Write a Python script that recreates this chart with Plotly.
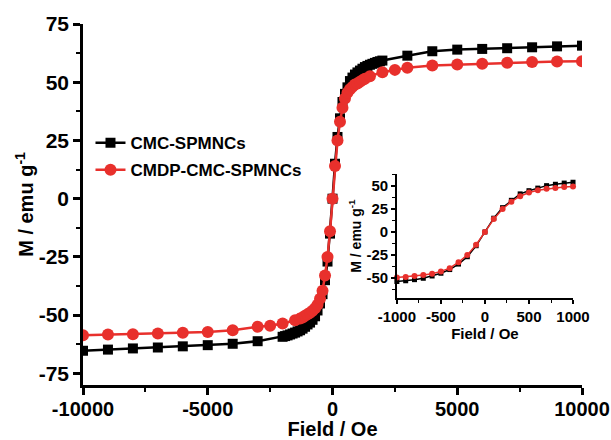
import plotly.graph_objects as go

# ---------------- data ----------------
cmc_field = [-10000, -9000, -8000, -7000, -6000, -5000, -4000, -3000,
             -2000, -1900, -1800, -1700, -1600, -1500, -1400, -1300, -1200, -1100,
             -1000, -900, -800, -700, -600, -500, -400, -300, -200, -100,
             0, 100, 200, 300, 400, 500, 600, 700, 800, 900, 1000,
             1100, 1200, 1300, 1400, 1500, 1600, 1700, 1800, 1900, 2000,
             3000, 4000, 5000, 6000, 7000, 8000, 9000, 10000]
cmc_m = [-65.3, -64.8, -64.3, -63.9, -63.4, -62.9, -62.3, -61.2,
         -59.3, -59.0, -58.7, -58.3, -57.9, -57.5, -57.0, -56.5, -55.8, -55.0,
         -54.0, -53.2, -52.0, -50.5, -48.0, -45.0, -41.0, -35.0, -27.0, -15.0,
         0.0, 15.0, 26.5, 34.5, 41.5, 45.0, 47.8, 50.5, 52.0, 53.3, 54.2,
         55.0, 55.8, 56.5, 57.0, 57.5, 57.9, 58.3, 58.7, 59.0, 59.3,
         61.4, 63.3, 64.0, 64.3, 64.6, 65.0, 65.4, 65.7]

cmdp_field = [-10000, -9000, -8000, -7000, -6000, -5000, -4000, -3000, -2500, -2000, -1500,
              -1300, -1200, -1100, -1000, -900, -800, -700, -600, -500, -400, -300, -200, -100,
              0, 100, 200, 300, 400, 500, 600, 700, 800, 900, 1000, 1100, 1200, 1300,
              1500, 2000, 2500, 3000, 4000, 5000, 6000, 7000, 8000, 9000, 10000]
cmdp_m = [-58.6, -58.3, -58.2, -57.9, -57.6, -57.2, -56.5, -55.0, -54.6, -53.6, -52.2,
          -51.5, -51.0, -50.3, -49.6, -49.0, -48.1, -47.0, -45.5, -43.0, -39.5, -33.0, -25.0, -14.0,
          0.0, 14.0, 25.0, 33.0, 39.0, 43.0, 45.5, 47.0, 48.0, 49.0, 49.5, 50.2, 50.9, 51.5,
          52.6, 54.3, 55.3, 56.2, 57.2, 57.6, 57.9, 58.4, 58.7, 58.9, 59.0]

x_tickvals = [-10000, -5000, 0, 5000, 10000]
x_ticktext = ["-10000", "-5000", "0", "5000", "10000"]
y_tickvals = [-75, -50, -25, 0, 25, 50, 75]
y_ticktext = ["-75", "-50", "-25", "0", "25", "50", "75"]
ix_tickvals = [-1000, -500, 0, 500, 1000]
ix_ticktext = ["-1000", "-500", "0", "500", "1000"]
iy_tickvals = [-50, -25, 0, 25, 50]
iy_ticktext = ["-50", "-25", "0", "25", "50"]

names = ["CMC-SPMNCs", "CMDP-CMC-SPMNCs"]

BLACK = "#000000"
RED = "#e8302c"
FONT = "Arial, 'Liberation Sans', sans-serif"

inset_lim = 1000
cmc_in = [(f, m) for f, m in zip(cmc_field, cmc_m) if abs(f) <= inset_lim]
cmdp_in = [(f, m) for f, m in zip(cmdp_field, cmdp_m) if abs(f) <= inset_lim]

fig = go.Figure()
fig.add_trace(go.Scatter(x=cmc_field, y=cmc_m, name=names[0], mode="lines+markers",
                         legendgroup="a",
                         line=dict(color=BLACK, width=2.5),
                         marker=dict(symbol="square", size=10, color=BLACK)))
fig.add_trace(go.Scatter(x=cmdp_field, y=cmdp_m, name=names[1], mode="lines+markers",
                         legendgroup="b",
                         line=dict(color=RED, width=2.5),
                         marker=dict(symbol="circle", size=12, color=RED)))
fig.add_trace(go.Scatter(x=[p[0] for p in cmc_in], y=[p[1] for p in cmc_in],
                         xaxis="x2", yaxis="y2", mode="lines+markers", showlegend=False,
                         line=dict(color=BLACK, width=1.5), cliponaxis=False,
                         marker=dict(symbol="square", size=5, color=BLACK)))
fig.add_trace(go.Scatter(x=[p[0] for p in cmdp_in], y=[p[1] for p in cmdp_in],
                         xaxis="x2", yaxis="y2", mode="lines+markers", showlegend=False,
                         line=dict(color=RED, width=1.5), cliponaxis=False,
                         marker=dict(symbol="circle", size=6, color=RED)))

axis_common = dict(showline=True, linecolor="black", mirror=False, showgrid=False,
                   zeroline=False, ticks="outside", tickcolor="black", automargin=False)

fig.update_layout(
    width=611, height=440,
    margin=dict(l=83, r=29, t=24, b=55),
    paper_bgcolor="white", plot_bgcolor="white",
    font=dict(family=FONT, color="black"),
    xaxis=dict(**axis_common, range=[-10000, 10000], linewidth=2.5, tickwidth=2.5, ticklen=7,
               tickvals=x_tickvals, ticktext=x_ticktext, ticklabelstandoff=-3,
               tickfont=dict(size=20, weight="bold"),
               minor=dict(dtick=2500, ticks="outside", ticklen=4, tickwidth=2, tickcolor="black"),
               title=dict(text="Field / Oe", font=dict(size=20, weight="bold"), standoff=0)),
    yaxis=dict(**axis_common, range=[-80, 75], linewidth=2.5, tickwidth=2.5, ticklen=7,
               tickvals=y_tickvals, ticktext=y_ticktext,
               tickfont=dict(size=21, weight="bold"),
               minor=dict(dtick=12.5, ticks="outside", ticklen=4, tickwidth=2, tickcolor="black"),
               title=dict(text="M / emu g<sup>-1</sup>", font=dict(size=20, weight="bold"), standoff=0)),
    xaxis2=dict(**axis_common, domain=[0.629, 0.982], anchor="y2", range=[-1000, 1000],
                linewidth=1.5, tickwidth=1.5, ticklen=4,
                tickvals=ix_tickvals, ticktext=ix_ticktext,
                tickfont=dict(size=15, weight="bold"),
                minor=dict(dtick=250, ticks="outside", ticklen=3, tickwidth=1.2, tickcolor="black"),
                title=dict(text="Field / Oe", font=dict(size=15, weight="bold"), standoff=0)),
    yaxis2=dict(**axis_common, domain=[0.241, 0.584], anchor="x2", range=[-72, 63],
                linewidth=1.5, tickwidth=1.5, ticklen=4,
                tickvals=iy_tickvals, ticktext=iy_ticktext,
                tickfont=dict(size=15, weight="bold"),
                minor=dict(dtick=12.5, ticks="outside", ticklen=3, tickwidth=1.2, tickcolor="black"),
                title=dict(text="M / emu g<sup>-1</sup>", font=dict(size=14, weight="bold"), standoff=2)),
    legend=dict(x=0.015, y=0.72, xanchor="left", yanchor="top", bgcolor="rgba(0,0,0,0)",
                font=dict(size=17, weight="bold"), tracegroupgap=2, traceorder="grouped"),
)

fig.write_html("out.html", config={"displayModeBar": False},
               post_script="document.body.style.margin='0';")
